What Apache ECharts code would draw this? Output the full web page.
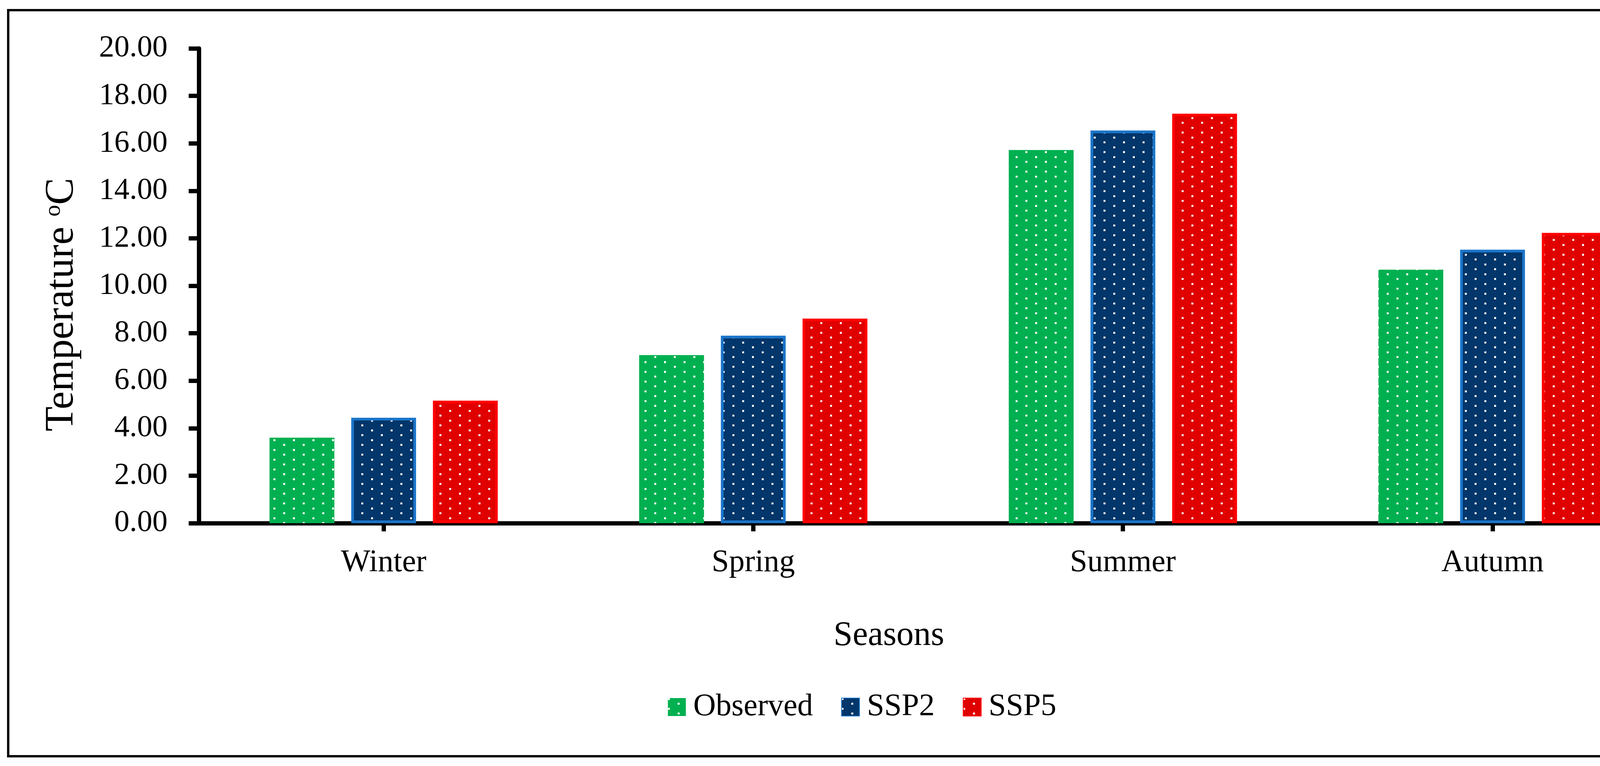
<!DOCTYPE html>
<html>
<head>
<meta charset="utf-8">
<script src="https://cdn.jsdelivr.net/npm/echarts@6.0.0/dist/echarts.min.js"></script>
<style>
html,body{margin:0;padding:0;background:#fff;}
#chart{width:4414px;height:1962px;}
</style>
</head>
<body>
<div id="chart"></div>
<script>
// ---- data ----
const categories = ['Winter', 'Spring', 'Summer', 'Autumn'];
const seriesNames = ['Observed', 'SSP2', 'SSP5'];
const observed = [3.60, 7.08, 15.72, 10.68];
const ssp2 = [4.44, 7.90, 16.54, 11.52];
const ssp5 = [5.16, 8.62, 17.25, 12.23];
const yMin = 0, yMax = 20, yStep = 2;
const xTitle = 'Seasons';
const yTitle = 'Temperature {sup|o}C';

// ---- styling helpers ----
function makePattern(bg) {
  const c = document.createElement('canvas');
  c.width = 50; c.height = 25;
  const g = c.getContext('2d');
  g.fillStyle = bg; g.fillRect(0, 0, 50, 25);
  g.fillStyle = '#ffffff';
  g.fillRect(0, 0, 5, 5);
  g.fillRect(25, 12, 5, 5);
  return {image: c, repeat: 'repeat'};
}
const FONT = '"Liberation Serif", "Times New Roman", serif';

const chart = echarts.init(document.getElementById('chart'), null, {renderer: 'canvas'});
const option = {
  backgroundColor: '#ffffff',
  animation: false,
  graphic: [{
    type: 'rect',
    shape: {x: 21, y: 26, width: 4362, height: 1911},
    style: {fill: 'none', stroke: '#000', lineWidth: 6},
    z: 0
  }],
  grid: {left: 509, right: 120, top: 124, bottom: 622, containLabel: false},
  legend: {
    data: seriesNames,
    left: 'center',
    top: 1766,
    icon: 'rect',
    itemWidth: 46,
    itemHeight: 46,
    itemGap: 72,
    textStyle: {fontFamily: FONT, fontSize: 80, color: '#000', padding: [0, 0, 0, 14]}
  },
  xAxis: [{
    type: 'category',
    data: categories,
    name: xTitle,
    nameLocation: 'middle',
    nameGap: 245,
    nameTextStyle: {fontFamily: FONT, fontSize: 88, color: '#000', padding: [0, 252, 0, 0]},
    axisLine: {show: true, lineStyle: {color: '#000', width: 11}},
    axisTick: {show: true, alignWithLabel: true, interval: 0, length: 21, lineStyle: {color: '#000', width: 11}},
    axisLabel: {fontFamily: FONT, fontSize: 80, color: '#000', margin: 62, interval: 0},
    splitLine: {show: false}
  }, {
    type: 'value',
    min: 0, max: 1,
    position: 'bottom',
    axisLine: {show: false},
    axisLabel: {show: false},
    splitLine: {show: false},
    axisTick: {show: true, customValues: [1], length: 21, lineStyle: {color: '#000', width: 11}}
  }],
  yAxis: {
    type: 'value',
    min: yMin, max: yMax, interval: yStep,
    name: yTitle,
    nameLocation: 'middle',
    nameGap: 298,
    nameTextStyle: {
      fontFamily: FONT, fontSize: 104, color: '#000', padding: [0, 96, 0, 0],
      rich: {sup: {fontFamily: FONT, fontSize: 60, color: '#000', verticalAlign: 'top'}}
    },
    axisLine: {show: true, lineStyle: {color: '#000', width: 11}},
    axisTick: {show: true, length: 26, lineStyle: {color: '#000', width: 11}},
    axisLabel: {fontFamily: FONT, fontSize: 78, color: '#000', margin: 80, formatter: v => v.toFixed(2)},
    splitLine: {show: false}
  },
  series: [{
    name: seriesNames[0], type: 'bar', data: observed,
    barWidth: 166, barGap: '26%',
    itemStyle: {color: makePattern('#00B050')}
  }, {
    name: seriesNames[1], type: 'bar', data: ssp2,
    barWidth: 166, barGap: '26%',
    itemStyle: {color: makePattern('#03366A'), borderColor: '#1B75C9', borderWidth: 7}
  }, {
    name: seriesNames[2], type: 'bar', data: ssp5,
    barWidth: 166, barGap: '26%',
    itemStyle: {color: makePattern('#E00000'), borderColor: '#FF0000', borderWidth: 7}
  }]
};
chart.setOption(option);
</script>
</body>
</html>
